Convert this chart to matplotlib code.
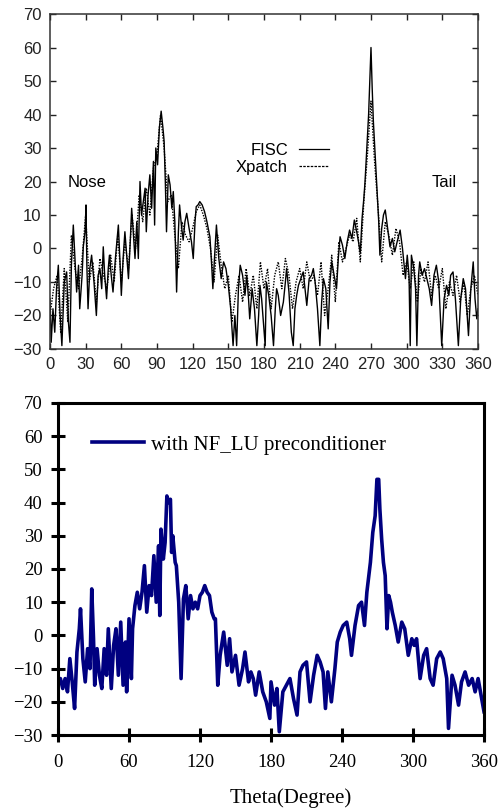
import numpy as np
import matplotlib
matplotlib.use("Agg")
import matplotlib.pyplot as plt
from matplotlib.lines import Line2D

# ---- top panel: FISC (solid) and Xpatch (dotted), RCS vs angle ----
theta_fisc = [0, 1, 2.5, 4, 5.5, 7, 8.5, 10, 12, 14, 15.5, 16.8, 18, 19.6, 21, 22.4, 24, 25, 27, 28,
              29.5, 30.3, 31, 32, 33.5, 35, 37, 39, 40.5, 42, 43.5, 44.8, 46, 47.6, 49, 50, 51.5, 53, 55, 57.5,
              59, 60, 61.5, 63, 64.5, 66, 67.5, 68.7, 70, 71.5, 73, 74.3, 75.7, 77, 78.5, 80, 81, 82.5, 84, 85.5,
              87, 88, 89, 90.5, 92, 93.5, 95, 96, 97, 98, 99.5, 101, 102.5, 103.7, 105, 106.5, 108, 109, 110.5, 112,
              113.5, 115, 117, 119, 120.5, 122, 123, 124.5, 126, 128, 130, 132, 134.5, 136, 137, 138.5, 140, 142, 144, 146,
              148, 150, 152, 154, 155.5, 157, 158.5, 160, 162, 164, 165.5, 167, 168, 170, 172, 174, 175.5, 176.6, 178, 179.5,
              181, 182, 184, 186, 188, 189.5, 190.6, 192, 194, 196.3, 198, 199, 201, 203, 204.6, 206, 207.5, 209, 211, 213,
              214.5, 216, 218, 220, 221.5, 223, 225, 227, 228.5, 230, 232, 234, 235.5, 237, 239, 241, 242.5, 244, 246, 248,
              250, 252, 254, 256, 258, 259.5, 261, 262.5, 264, 265, 266.5, 268, 269, 270, 271, 272, 273.5, 275, 276.5, 277.5,
              279, 280.5, 282, 284, 286, 288, 290, 292, 294.5, 296.5, 299, 300.5, 302, 303, 304, 306, 307.5, 308.6, 310, 311,
              313, 315, 317, 319, 321, 323, 325, 327, 329.5, 331.5, 333.6, 335.5, 337, 339, 341, 343.5, 345.5, 347.6, 349.5, 352,
              354, 356, 357.5, 359, 360]
fisc = [-15, -28, -18, -25, -12, -5, -20, -29, -10, -7, -22, -28, -5, 7, -3, -13, -5, -18, -8, 0.5,
        5, 13, -5, -18, -6, -2, -10, -20, -8, -6, -12, 0.5, -8, -15, -6, -2, -8, -13, -3, 7,
        -5, -14, -3, 5, -2, -9, 2, 12, 5, -3, 8, -3, 20, 10, 14, 18, 5, 16, 22, 12,
        26, 7, 30, 25, 36, 41, 36, 32, 20, 5, 22, 19, 12, 17, 8, -13, 5, 13, 7, 2.5,
        8, 10.5, 6, 2, -3, 8, 12.5, 13, 14, 13, 11, 8, 3.5, -5, -12, -2, 7, -3, -9, -4,
        -6, -11, -18, -29, -20, -29, -12, -5, -8, -14, -8, -15, -21, -12, -18, -29, -20, -11, -15, -22,
        -29, -10, -14, -20, -29, -18, -12, -14, -20, -16, -10, -6, -13, -25, -29, -18, -14, -11, -9, -7,
        -12, -17, -9, -8, -6, -10, -18, -29, -16, -9, -12, -24, -10, -4, -8, -12, -3, 3.5, 1, -3,
        2, 5.5, 3, 8.5, 5, 2, -1.4, 9, 15, 20, 30, 40, 50, 60, 48, 38, 28, 18, 8, -2,
        6, 10, 11.5, 6, 0.5, 3, -1, 2, 5.5, 0, -9, -2, -8, -29, -2, -6, -12, -29, -8, -4,
        -8, -6, -9, -12, -17, -8, -5, -10, -29, -15, -11, -14, -8, -7, -15, -29, -15, -9, -12, -26,
        -12, -4, -15, -21, -18]

theta_xpatch = np.arange(0, 361, 3)
xpatch = [-20, -12, -8, -25, -6, -22, 4, -6, -12, -3,
          10, -10, -4, -16, -3, -8, -12, -2, -10, 4,
          -10, 2, -6, 10, 0, 16, 8, 18, 10, 24,
          28, 40, 30, 14, 16, 4, -6, 8, 4, 2,
          6, 11, 13, 10, 6, 0, -10, 4, -5, -12,
          -8, -22, -14, -8, -16, -6, -14, -8, -18, -4,
          -12, -6, -18, -8, -4, -12, -3, -8, -18, -10,
          -6, -12, -4, -10, -8, -14, -4, -20, -12, -2,
          -16, 2, -4, 0, 4, 2, 9, -4, 14, 28,
          44, 26, 12, -4, 8, 4, -2, 6, 2, -8,
          -4, -12, -4, -16, -6, -10, -4, -14, -8, -12,
          -6, -18, -10, -14, -8, -16, -10, -20, -12, -8,
          -14]

# ---- bottom panel: with NF_LU preconditioner ----
theta_nf = [0, 2, 4, 6, 8, 10, 12, 14, 16, 18, 19, 21, 23, 25, 27, 28.5, 30, 31, 33, 35,
            37, 39, 41, 42.5, 45, 47, 49, 51, 53, 55, 57, 58, 60, 62, 63, 65, 67, 69, 71, 73,
            75, 77, 79, 81, 83, 85, 86, 87, 89, 90.5, 92, 93.5, 95, 96, 97, 99, 100, 102, 104, 106,
            108, 110, 112, 114, 116, 118, 120, 122, 124, 126, 128, 130, 132, 133, 135, 137, 140, 143, 145, 147,
            150, 153, 156, 158, 161, 163, 165, 167, 170, 173, 176, 179, 180, 183, 185, 187, 190, 193, 196, 199,
            202, 204.5, 207, 210, 213, 216, 219, 221.5, 224, 226, 228, 231, 234, 236, 238.5, 241, 244, 246.5, 248, 251,
            254, 256.5, 259, 261, 264, 266, 268, 269.5, 271, 272, 273.5, 275, 276.5, 278, 279.5, 281, 282.5, 285, 287.5, 290.5,
            293, 296, 299, 301, 303, 306, 309, 311.5, 314.5, 317, 320, 323, 325.5, 328.5, 330, 333, 335.5, 338.5, 341, 344,
            347, 350, 352.5, 355, 358, 360]
nf_lu = [-15, -13, -16, -13, -17, -7, -14, -22, -5, 2, 8, -7, -14, -4, -10, 14, -1, -15, -4, -12,
         -16, -4, -12, 2, -16, -3, 2, -12, 4, -15, -2, -17, 5, -13, 2, 9, 13, 8, 13, 21,
         7, 15, 12, 24, 10, 27, 6, 32, 23, 28, 42, 40, 41, 25, 30, 22, 21, 10, -13, 11,
         15, 5, 12, 8, 10, 8, 12, 13, 15, 13, 12, 7, 5, 5, -15, -6, 1, -9, -1, -11,
         -6, -15, -10, -5, -14, -11, -13, -18, -11, -17, -20, -25, -14, -21, -16, -29, -17, -15, -13, -19,
         -24, -11, -9, -8, -20, -12, -6, -8, -11, -22, -11, -20, -10, -2, 1, 3, 4, -1, -6, 3,
         9, 10, 3, 13, 22, 31, 36, 47, 47, 38, 29, 22, 18, 2, 12, 10, 7, 3, -2, 4,
         2, -6, -1, -3, -1, -13, -6, -4, -13, -15, -7, -5, -7, -13, -28, -12, -15, -21, -14, -11,
         -15, -13, -17, -13, -19, -23]

top_xticks = np.arange(0, 361, 30)
bot_xticks = np.arange(0, 361, 60)
yticks = np.arange(-30, 71, 10)

fig = plt.figure(figsize=(4.98, 8.11), dpi=100)

# top: scanned-looking plot, sans-serif
ax1 = fig.add_axes([0.1004, 0.5697, 0.8594, 0.4130])
ax1.plot(theta_fisc, fisc, color="black", lw=1.0)
ax1.plot(theta_xpatch, xpatch, color="black", lw=1.0, ls=(0, (1, 1)))
ax1.set_xlim(0, 360)
ax1.set_ylim(-30, 70)
ax1.set_xticks(top_xticks)
ax1.set_yticks(yticks)
ax1.tick_params(direction="in", length=4, width=1, top=True, right=True,
                labelsize=12, colors="#222222", pad=6)
for lab in ax1.get_xticklabels() + ax1.get_yticklabels():
    lab.set_family("Liberation Sans")
for s in ax1.spines.values():
    s.set_linewidth(1.1)
    s.set_color("#333333")
ax1.text(15, 19.6, "Nose", family="Liberation Sans", fontsize=12, va="center")
ax1.text(321, 19.6, "Tail", family="Liberation Sans", fontsize=12, va="center")
h1 = [Line2D([], [], color="black", lw=0.9),
      Line2D([], [], color="black", lw=0.9, ls=(0, (2, 1)))]
ax1.legend(h1, ["FISC", "Xpatch"], loc="center right", bbox_to_anchor=(0.652, 0.567),
           frameon=False, markerfirst=False, handlelength=1.8, handletextpad=0.66,
           labelspacing=0.1, borderpad=0, borderaxespad=0,
           prop={"family": "Liberation Sans", "size": 12})

# bottom: navy line, serif
ax2 = fig.add_axes([0.1165, 0.0937, 0.8554, 0.4094])
ax2.plot(theta_nf, nf_lu, color="#000080", lw=2.6, label="with NF_LU preconditioner")
ax2.set_xlim(0, 360)
ax2.set_ylim(-30, 70)
ax2.set_xticks(bot_xticks)
ax2.set_yticks(yticks)
ax2.tick_params(direction="inout", length=10, width=2.2, labelsize=13.5)
ax2.tick_params(axis="x", pad=9)
ax2.tick_params(axis="y", pad=6)
for lab in ax2.get_xticklabels() + ax2.get_yticklabels():
    lab.set_family("Liberation Serif")
for s in ax2.spines.values():
    s.set_linewidth(2.2)
ax2.set_xlabel("Theta(Degree)", family="Liberation Serif", fontsize=15)
ax2.xaxis.set_label_coords(0.547, -0.16)
ax2.legend(loc="center left", bbox_to_anchor=(0.0798, 0.8735), frameon=False,
           handlelength=2.5, handletextpad=0.33, borderpad=0, borderaxespad=0,
           prop={"family": "Liberation Serif", "size": 15})

fig.savefig("out.png", dpi=100)
